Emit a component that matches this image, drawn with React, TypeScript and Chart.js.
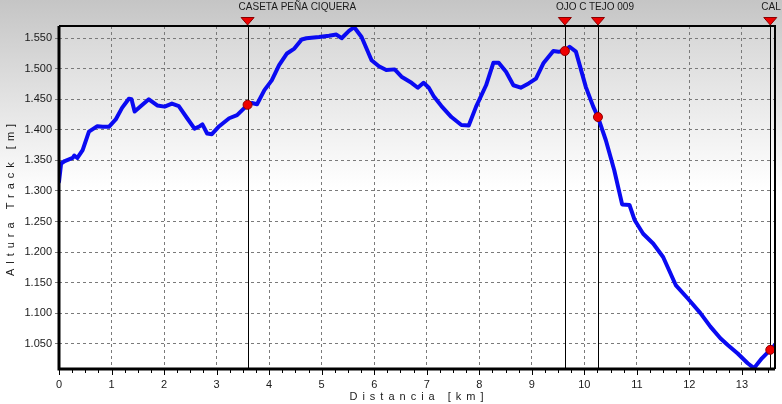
import { useEffect, useRef } from 'react';
import { Chart, registerables } from 'chart.js';

Chart.register(...registerables);

// Track profile (distance in km, elevation in m)
const distanceKm = [
  0, 0.04, 0.11, 0.26, 0.29, 0.35, 0.45, 0.57, 0.73, 0.83, 0.95, 1.08, 1.2, 1.33, 1.38, 1.44,
  1.56, 1.71, 1.87, 2.01, 2.15, 2.28, 2.44, 2.58, 2.68, 2.73, 2.82, 2.91, 3.05, 3.24, 3.39, 3.59,
  3.67, 3.77, 3.91, 4.05, 4.19, 4.34, 4.48, 4.62, 4.71, 4.95, 5.14, 5.28, 5.38, 5.52, 5.62, 5.76,
  5.95, 6.09, 6.23, 6.39, 6.52, 6.71, 6.83, 6.94, 7.04, 7.14, 7.28, 7.47, 7.66, 7.8, 7.94, 8.13,
  8.27, 8.37, 8.51, 8.65, 8.79, 8.94, 9.08, 9.22, 9.41, 9.51, 9.63, 9.72, 9.84, 10.03, 10.17, 10.26,
  10.41, 10.57, 10.72, 10.86, 10.96, 11.12, 11.31, 11.5, 11.74, 11.97, 12.21, 12.4, 12.59, 12.73,
  12.92, 13.11, 13.23, 13.38, 13.54, 13.63,
];
const elevationM = [
  1315, 1345, 1349, 1354, 1358, 1354, 1367, 1397, 1406, 1405, 1405, 1417, 1436, 1451, 1450, 1430,
  1439, 1450, 1440, 1438, 1443, 1439, 1419, 1402, 1406, 1409, 1394, 1393, 1406, 1419, 1424, 1441,
  1444, 1442, 1465, 1481, 1506, 1525, 1533, 1548, 1550, 1552, 1554, 1556, 1550, 1562, 1568, 1552,
  1514, 1504, 1498, 1499, 1487, 1477, 1469, 1477, 1469, 1454, 1439, 1421, 1408, 1407, 1438, 1473,
  1510, 1510, 1495, 1473, 1469, 1476, 1484, 1509, 1529, 1528, 1529, 1536, 1528, 1470, 1438, 1421,
  1383, 1334, 1278, 1277, 1252, 1230, 1214, 1192, 1146, 1124, 1100, 1078, 1059, 1048,
  1034, 1018, 1010, 1026, 1040, 1048,
];

// Waypoints
const waypointKm = [3.59, 9.63, 10.26, 13.54];
const waypointElev = [1441, 1529, 1421, 1040];
const waypointNames = ['CASETA PEÑA CIQUERA', 'OJO C', 'TEJO 009', 'CAL'];

// Axis
const xMin = 0;
const xMax = 13.63;
const yMin = 1008.6;
const yMax = 1570;
const xTickStep = 1;
const yTickStep = 50;
const xTitle = 'Distancia [km]';
const yTitle = 'Altura Track [m]';

const FONT = '"Liberation Sans", Arial, sans-serif';

const fmtThousands = (v: number) => {
  const n = Math.round(v);
  if (n < 1000) return String(n);
  return `${Math.floor(n / 1000)}.${String(n % 1000).padStart(3, '0')}`;
};

const decor = {
  id: 'decor',
  beforeDraw(chart: any) {
    const { ctx, width, height, chartArea: a } = chart;
    ctx.save();
    let g = ctx.createLinearGradient(0, 0, 0, 195);
    g.addColorStop(0, '#c5c5c5');
    g.addColorStop(1, '#ffffff');
    ctx.fillStyle = g;
    ctx.fillRect(0, 0, width, height);
    g = ctx.createLinearGradient(0, a.top, 0, 188);
    g.addColorStop(0, '#d6d6d6');
    g.addColorStop(1, '#ffffff');
    ctx.fillStyle = g;
    ctx.fillRect(a.left, a.top, a.right - a.left, a.bottom - a.top);
    ctx.restore();
  },
  beforeDatasetsDraw(chart: any) {
    const { ctx, chartArea: a, scales } = chart;
    ctx.save();
    ctx.strokeStyle = '#000';
    ctx.lineWidth = 1;
    waypointKm.forEach((km) => {
      const x = Math.round(scales.x.getPixelForValue(km)) + 0.5;
      ctx.beginPath();
      ctx.moveTo(x, a.top);
      ctx.lineTo(x, a.bottom);
      ctx.stroke();
    });
    ctx.restore();
  },
  afterDraw(chart: any) {
    const { ctx, chartArea: a, scales, width } = chart;
    ctx.save();
    // frame
    ctx.strokeStyle = '#000';
    ctx.lineWidth = 3;
    ctx.beginPath();
    ctx.moveTo(a.left, a.top);
    ctx.lineTo(a.left, a.bottom);
    ctx.lineTo(a.right, a.bottom);
    ctx.stroke();
    ctx.lineWidth = 2;
    ctx.beginPath();
    ctx.moveTo(a.left, a.top);
    ctx.lineTo(a.right, a.top);
    ctx.lineTo(a.right, a.bottom);
    ctx.stroke();
    // x ticks (major + minor)
    ctx.lineWidth = 1;
    for (let v = xMin; v <= xMax + 1e-6; v += 0.25) {
      const x = Math.round(scales.x.getPixelForValue(v)) + 0.5;
      const major = Math.abs(v - Math.round(v)) < 1e-6;
      ctx.beginPath();
      ctx.moveTo(x, a.bottom + 1);
      ctx.lineTo(x, a.bottom + (major ? 6 : 4));
      ctx.stroke();
    }
    // waypoint triangles and labels
    const xs = waypointKm.map((km) => scales.x.getPixelForValue(km));
    ctx.font = `10px ${FONT}`;
    ctx.textBaseline = 'middle';
    ctx.textAlign = 'left';
    xs.forEach((x, i) => {
      const start = x - 9;
      const end = i + 1 < xs.length ? xs[i + 1] - 9 : width;
      ctx.save();
      ctx.beginPath();
      ctx.rect(start, 0, end - start, 16);
      ctx.clip();
      ctx.fillStyle = '#1a1a1a';
      ctx.fillText(waypointNames[i], start, 7.5);
      ctx.restore();
      ctx.beginPath();
      ctx.moveTo(x - 6.5, 17.5);
      ctx.lineTo(x + 6.5, 17.5);
      ctx.lineTo(x, 25);
      ctx.closePath();
      ctx.fillStyle = '#ee0000';
      ctx.fill();
      ctx.strokeStyle = '#8a0000';
      ctx.lineWidth = 1;
      ctx.stroke();
    });
    // axis titles
    ctx.fillStyle = '#1a1a1a';
    ctx.font = `11px ${FONT}`;
    (ctx as any).letterSpacing = '5px';
    ctx.textAlign = 'center';
    ctx.textBaseline = 'middle';
    ctx.fillText(xTitle, (a.left + a.right) / 2 + 2, 397);
    ctx.save();
    ctx.translate(11, (a.top + a.bottom) / 2);
    ctx.rotate(-Math.PI / 2);
    ctx.fillText(yTitle, 0, 0);
    ctx.restore();
    (ctx as any).letterSpacing = '0px';
    ctx.restore();
  },
};

export default function App() {
  const ref = useRef<HTMLCanvasElement | null>(null);

  useEffect(() => {
    if (!ref.current) return;
    const profile = distanceKm.map((d, i) => ({ x: d, y: elevationM[i] }));
    const points = waypointKm.map((d, i) => ({ x: d, y: waypointElev[i] }));
    const chart = new Chart(ref.current, {
      type: 'line',
      data: {
        datasets: [
          {
            data: profile,
            borderColor: '#0a0af2',
            borderWidth: 4,
            borderJoinStyle: 'round',
            borderCapStyle: 'round',
            pointRadius: 0,
            tension: 0,
            fill: false,
            order: 2,
          },
          {
            data: points,
            showLine: false,
            pointRadius: 4.5,
            pointBackgroundColor: '#ee0000',
            pointBorderColor: '#900000',
            pointBorderWidth: 1,
            order: 1,
          },
        ],
      },
      options: {
        animation: false,
        responsive: false,
        devicePixelRatio: 1,
        events: [],
        layout: { padding: { top: 26, right: 7, left: 0, bottom: 0 } },
        plugins: { legend: { display: false }, tooltip: { enabled: false }, title: { display: false } },
        scales: {
          x: {
            type: 'linear',
            min: xMin,
            max: xMax,
            afterFit: (s: any) => { s.height = 35; },
            ticks: {
              stepSize: xTickStep,
              includeBounds: false,
              padding: 9,
              maxRotation: 0,
              autoSkip: false,
              color: '#1a1a1a',
              font: { size: 11, family: FONT },
              callback: (v: any) => String(v),
            },
            grid: { color: '#7a7a7a', lineWidth: 1, drawTicks: false },
            border: { display: false, dash: [3, 3] },
          },
          y: {
            type: 'linear',
            min: yMin,
            max: yMax,
            afterFit: (s: any) => { s.width = 59; },
            ticks: {
              stepSize: yTickStep,
              includeBounds: false,
              padding: 3,
              autoSkip: false,
              color: '#1a1a1a',
              font: { size: 11, family: FONT },
              callback: (v: any) => fmtThousands(Number(v)),
            },
            grid: { color: '#7a7a7a', lineWidth: 1, drawTicks: true, tickLength: 4 },
            border: { display: false, dash: [3, 3] },
          },
        },
      },
      plugins: [decor],
    });
    return () => chart.destroy();
  }, []);

  return (
    <div style={{ position: 'fixed', left: 0, top: 0, width: 782, height: 404 }}>
      <canvas ref={ref} width={782} height={404} style={{ width: 782, height: 404 }} />
    </div>
  );
}
